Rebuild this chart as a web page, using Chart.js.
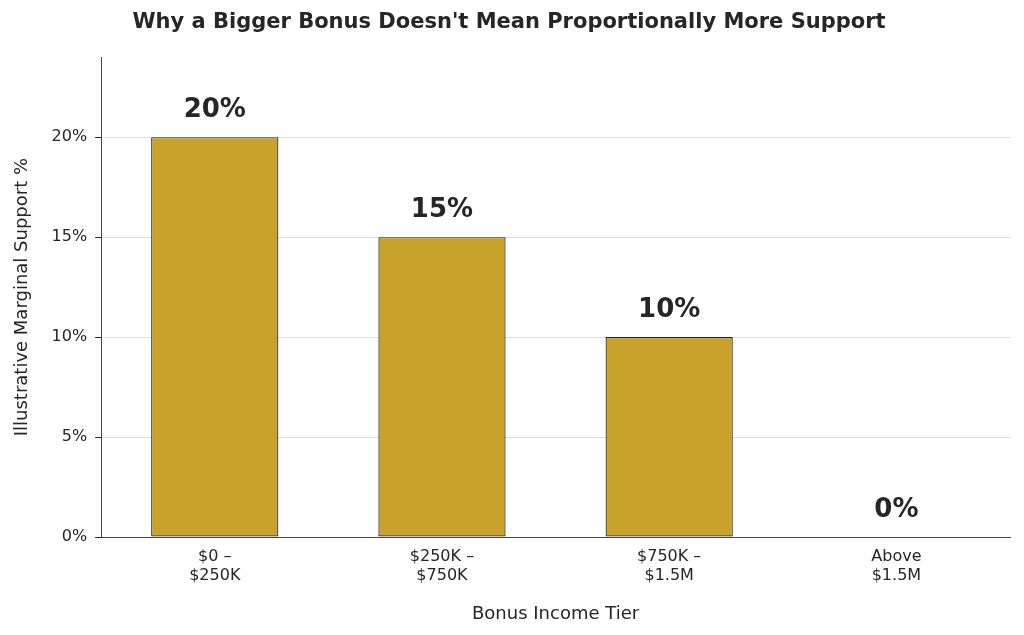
<!DOCTYPE html>
<html>
<head>
<meta charset="utf-8">
<script src="https://cdn.jsdelivr.net/npm/chart.js@4"></script>
<style>
  html, body { margin: 0; padding: 0; background: #fff; }
  #wrap { width: 1024px; height: 635px; }
</style>
</head>
<body>
<div id="wrap"><canvas id="chart"></canvas></div>
<script>
  const tiers = [['$0 –', '$250K'], ['$250K –', '$750K'], ['$750K –', '$1.5M'], ['Above', '$1.5M']];
  const supportPct = [20, 15, 10, 0];
  const yTicks = [0, 5, 10, 15, 20];

  const font = 'DejaVu Sans';
  const ink = '#262626';

  const valueLabels = {
    id: 'valueLabels',
    afterDatasetsDraw(chart) {
      const ctx = chart.ctx;
      const meta = chart.getDatasetMeta(0);
      ctx.save();
      ctx.font = 'bold 26px "' + font + '"';
      ctx.fillStyle = ink;
      ctx.textAlign = 'center';
      ctx.textBaseline = 'bottom';
      meta.data.forEach(function (bar, i) {
        ctx.fillText(supportPct[i] + '%', bar.x, bar.y - 14);
      });
      ctx.restore();
    }
  };

  new Chart(document.getElementById('chart'), {
    type: 'bar',
    data: {
      labels: tiers,
      datasets: [{
        data: supportPct,
        backgroundColor: '#C9A22B',
        borderColor: ink,
        borderWidth: 1.2,
        borderSkipped: false,
        barPercentage: 0.56,
        categoryPercentage: 1
      }]
    },
    options: {
      responsive: true,
      maintainAspectRatio: false,
      animation: false,
      layout: { padding: { left: 8, right: 14, top: 4, bottom: 6 } },
      plugins: {
        legend: { display: false },
        tooltip: { enabled: false },
        title: {
          display: true,
          text: "Why a Bigger Bonus Doesn't Mean Proportionally More Support",
          color: ink,
          font: { family: font, size: 21, weight: 'bold' },
          padding: { top: 6, bottom: 22 }
        }
      },
      scales: {
        y: {
          min: 0,
          max: 24,
          afterBuildTicks: function (axis) {
            axis.ticks = yTicks.map(function (v) { return { value: v }; });
          },
          ticks: {
            color: ink,
            font: { family: font, size: 16 },
            padding: 8,
            callback: function (v) { return v + '%'; }
          },
          grid: { color: '#dddddd', drawTicks: true, tickLength: 6, tickColor: ink },
          border: { display: true, color: '#444', width: 1 },
          title: {
            display: true,
            text: 'Illustrative Marginal Support %',
            color: ink,
            font: { family: font, size: 18 },
            padding: { bottom: 10 }
          }
        },
        x: {
          ticks: { color: ink, font: { family: font, size: 16 }, padding: 4 },
          grid: { display: false, drawTicks: true, tickLength: 6 },
          border: { display: true, color: '#444', width: 1 },
          title: {
            display: true,
            text: 'Bonus Income Tier',
            color: ink,
            font: { family: font, size: 18 },
            padding: { top: 14 }
          }
        }
      }
    },
    plugins: [valueLabels]
  });
</script>
</body>
</html>
